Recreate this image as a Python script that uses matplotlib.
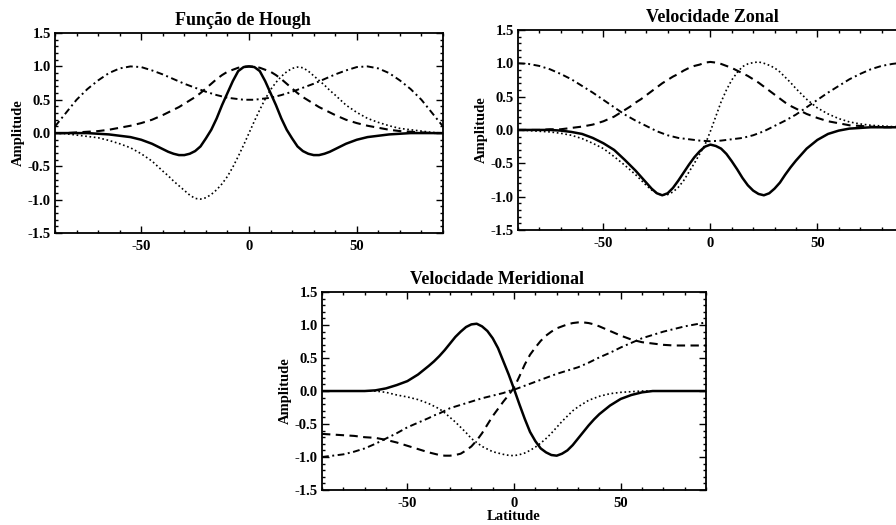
"""Hough function / zonal / meridional velocity profiles vs latitude (IDL-style panels)."""
import matplotlib
matplotlib.use("Agg")
import matplotlib.pyplot as plt
from matplotlib.ticker import MultipleLocator

plt.rcParams["font.family"] = ["Liberation Serif", "DejaVu Serif"]
plt.rcParams["font.weight"] = "bold"
plt.rcParams["axes.unicode_minus"] = False

# latitude grid: 5 deg outside +-40, 2.5 deg in the middle
LAT = ([-90, -85, -80, -75, -70, -65, -60, -55, -50, -45, -40]
       + [-37.5, -35, -32.5, -30, -27.5, -25, -22.5, -20, -17.5, -15, -12.5, -10, -7.5, -5, -2.5,
          0, 2.5, 5, 7.5, 10, 12.5, 15, 17.5, 20, 22.5, 25, 27.5, 30, 32.5, 35, 37.5]
       + [40, 45, 50, 55, 60, 65, 70, 75, 80, 85, 90])

# --- Função de Hough ---
hough_solid = ([0.0, 0.0, 0.0, 0.0, -0.01, -0.02, -0.04, -0.06, -0.1, -0.16, -0.24]
               + [-0.28, -0.31, -0.33, -0.33, -0.31, -0.27, -0.2, -0.08, 0.05, 0.22, 0.42, 0.6, 0.78,
                  0.93, 0.99, 1.0, 0.99, 0.93, 0.78, 0.6, 0.42, 0.22, 0.05, -0.08, -0.2, -0.27,
                  -0.31, -0.33, -0.33, -0.31, -0.28]
               + [-0.24, -0.16, -0.1, -0.06, -0.04, -0.02, -0.01, 0.0, 0.0, 0.0, 0.0])
hough_dotted = ([0.0, -0.01, -0.03, -0.05, -0.07, -0.11, -0.16, -0.22, -0.31, -0.42, -0.57]
                + [-0.64, -0.72, -0.79, -0.86, -0.93, -0.98, -0.99, -0.97, -0.92, -0.85, -0.76,
                   -0.65, -0.51, -0.35, -0.18, 0.0, 0.18, 0.35, 0.51, 0.65, 0.76, 0.85, 0.92, 0.97,
                   0.99, 0.98, 0.93, 0.86, 0.79, 0.72, 0.64]
                + [0.57, 0.42, 0.31, 0.22, 0.16, 0.11, 0.07, 0.05, 0.03, 0.01, 0.0])
hough_dashed = ([0.0, 0.0, 0.01, 0.02, 0.03, 0.05, 0.08, 0.11, 0.15, 0.2, 0.27]
                + [0.31, 0.35, 0.39, 0.44, 0.49, 0.54, 0.6, 0.67, 0.74, 0.81, 0.87, 0.92, 0.95,
                   0.98, 0.995, 1.0, 0.995, 0.98, 0.95, 0.92, 0.87, 0.81, 0.74, 0.67, 0.6, 0.54,
                   0.49, 0.44, 0.39, 0.35, 0.31]
                + [0.27, 0.2, 0.15, 0.11, 0.08, 0.05, 0.03, 0.02, 0.01, 0.0, 0.0])
hough_dashdot = ([0.1, 0.3, 0.5, 0.66, 0.79, 0.9, 0.97, 1.0, 0.99, 0.94, 0.88]
                 + [0.845, 0.81, 0.775, 0.74, 0.71, 0.68, 0.65, 0.62, 0.595, 0.57, 0.55, 0.53,
                    0.52, 0.51, 0.5, 0.5, 0.5, 0.51, 0.52, 0.53, 0.55, 0.57, 0.595, 0.62, 0.65,
                    0.68, 0.71, 0.74, 0.775, 0.81, 0.845]
                 + [0.88, 0.94, 0.99, 1.0, 0.97, 0.9, 0.79, 0.66, 0.5, 0.3, 0.1])

# --- Velocidade Zonal ---
zonal_solid = ([0.0, 0.0, 0.0, 0.0, -0.01, -0.03, -0.06, -0.12, -0.2, -0.3, -0.45]
               + [-0.53, -0.61, -0.7, -0.79, -0.88, -0.95, -0.98, -0.95, -0.87, -0.76, -0.64,
                  -0.52, -0.41, -0.32, -0.25, -0.22, -0.24, -0.28, -0.36, -0.47, -0.59, -0.72,
                  -0.83, -0.91, -0.96, -0.98, -0.95, -0.88, -0.79, -0.67, -0.56]
               + [-0.46, -0.28, -0.15, -0.06, -0.01, 0.02, 0.03, 0.04, 0.04, 0.04, 0.04])
zonal_dotted = ([0.0, -0.01, -0.02, -0.03, -0.05, -0.08, -0.13, -0.2, -0.28, -0.4, -0.53]
                + [-0.6, -0.67, -0.75, -0.83, -0.9, -0.95, -0.98, -0.97, -0.93, -0.86, -0.76,
                   -0.63, -0.5, -0.36, -0.22, -0.02, 0.2, 0.42, 0.6, 0.75, 0.86, 0.95, 0.99, 1.01,
                   1.02, 1.0, 0.97, 0.93, 0.87, 0.79, 0.71]
                + [0.62, 0.46, 0.33, 0.24, 0.17, 0.12, 0.09, 0.07, 0.06, 0.05, 0.05])
zonal_dashed = ([0.0, 0.0, 0.0, 0.01, 0.01, 0.03, 0.05, 0.08, 0.13, 0.2, 0.3]
                + [0.35, 0.41, 0.46, 0.52, 0.58, 0.64, 0.7, 0.75, 0.8, 0.84, 0.89, 0.93, 0.96,
                   0.98, 1.01, 1.02, 1.01, 0.99, 0.96, 0.93, 0.89, 0.85, 0.81, 0.76, 0.71, 0.65,
                   0.59, 0.53, 0.47, 0.41, 0.36]
                + [0.32, 0.24, 0.18, 0.13, 0.1, 0.07, 0.06, 0.05, 0.04, 0.04, 0.03])
zonal_dashdot = ([1.0, 0.99, 0.96, 0.91, 0.84, 0.76, 0.66, 0.56, 0.45, 0.34, 0.23]
                 + [0.185, 0.14, 0.1, 0.06, 0.02, -0.02, -0.05, -0.08, -0.1, -0.12, -0.13, -0.14,
                    -0.15, -0.16, -0.165, -0.17, -0.165, -0.16, -0.15, -0.14, -0.13, -0.12, -0.1,
                    -0.08, -0.05, -0.02, 0.02, 0.06, 0.1, 0.14, 0.185]
                 + [0.23, 0.34, 0.45, 0.56, 0.66, 0.76, 0.84, 0.91, 0.96, 0.99, 1.01])

# --- Velocidade Meridional ---
merid_solid = ([0.0, 0.0, 0.0, 0.0, 0.0, 0.01, 0.04, 0.09, 0.15, 0.25, 0.38]
               + [0.45, 0.53, 0.62, 0.72, 0.82, 0.9, 0.97, 1.01, 1.02, 0.98, 0.91, 0.8, 0.65,
                  0.45, 0.25, 0.03, -0.2, -0.42, -0.62, -0.76, -0.87, -0.93, -0.97, -0.98, -0.95,
                  -0.9, -0.82, -0.72, -0.62, -0.52, -0.43]
               + [-0.35, -0.22, -0.12, -0.06, -0.02, 0.0, 0.0, 0.0, 0.0, 0.0, 0.0])
merid_dotted = ([0.0, 0.0, 0.0, 0.0, 0.0, 0.0, -0.02, -0.06, -0.09, -0.13, -0.19]
                + [-0.23, -0.27, -0.33, -0.4, -0.47, -0.55, -0.63, -0.72, -0.78, -0.84, -0.88,
                   -0.92, -0.94, -0.96, -0.975, -0.98, -0.965, -0.94, -0.9, -0.85, -0.79, -0.72,
                   -0.64, -0.55, -0.46, -0.38, -0.3, -0.24, -0.19, -0.14, -0.11]
                + [-0.08, -0.04, -0.02, -0.01, 0.0, 0.0, 0.0, 0.0, 0.0, 0.0, 0.0])
merid_dashed = ([-0.65, -0.66, -0.67, -0.68, -0.7, -0.71, -0.74, -0.78, -0.83, -0.88, -0.93]
                + [-0.95, -0.97, -0.98, -0.98, -0.97, -0.95, -0.9, -0.84, -0.75, -0.64, -0.51,
                   -0.38, -0.27, -0.16, -0.06, 0.05, 0.22, 0.4, 0.55, 0.66, 0.76, 0.84, 0.9, 0.95,
                   0.98, 1.01, 1.03, 1.04, 1.04, 1.03, 1.01]
                + [0.98, 0.91, 0.84, 0.78, 0.74, 0.72, 0.7, 0.69, 0.69, 0.69, 0.69])
merid_dashdot = ([-1.0, -0.98, -0.96, -0.92, -0.87, -0.8, -0.72, -0.64, -0.55, -0.48, -0.41]
                 + [-0.37, -0.34, -0.3, -0.26, -0.235, -0.21, -0.185, -0.16, -0.135, -0.11,
                    -0.09, -0.07, -0.05, -0.03, 0.0, 0.02, 0.05, 0.08, 0.11, 0.14, 0.17, 0.2,
                    0.23, 0.26, 0.285, 0.31, 0.335, 0.36, 0.395, 0.43, 0.47]
                 + [0.51, 0.58, 0.66, 0.73, 0.8, 0.85, 0.9, 0.94, 0.98, 1.01, 1.04])

STYLES = {
    "solid": dict(linestyle="-", lw=1.8),
    "dotted": dict(dashes=(1, 1.6), lw=1.2),
    "dashed": dict(dashes=(4, 2.6), lw=1.5),
    "dashdot": dict(dashes=(3.5, 1.8, 1, 1.8), lw=1.4),
}


def draw_panel(ax, title, title_x, series, xlabel=None):
    for key, ys in series.items():
        ax.plot(LAT, ys, color="black", **STYLES[key])
    ax.set_xlim(-90, 90)
    ax.set_ylim(-1.5, 1.5)
    ax.xaxis.set_major_locator(MultipleLocator(50))
    ax.xaxis.set_minor_locator(MultipleLocator(10))
    ax.yaxis.set_major_locator(MultipleLocator(0.5))
    ax.yaxis.set_minor_locator(MultipleLocator(0.1))
    ax.yaxis.set_major_formatter(plt.FuncFormatter(lambda v, p: f"{v:.1f}"))
    ax.tick_params(which="both", direction="in", top=True, right=True, labelsize=10.5, width=1.0)
    ax.tick_params(which="major", length=5)
    ax.tick_params(which="minor", length=2.5)
    ax.tick_params(axis="x", pad=5)
    ax.tick_params(axis="y", pad=3)
    for s in ax.spines.values():
        s.set_linewidth(1.3)
    ax.set_ylabel("Amplitude", fontsize=10.5, fontweight="bold", labelpad=2)
    ax.set_title(title, fontsize=13, fontweight="bold", x=title_x, pad=6)
    if xlabel:
        ax.set_xlabel(xlabel, fontsize=10.5, fontweight="bold", labelpad=0)


fig = plt.figure(figsize=(8.96, 5.25), dpi=100)

ax1 = fig.add_axes([0.0614, 0.556, 0.433, 0.381])
draw_panel(ax1, "Função de Hough", 0.485,
           {"dashdot": hough_dashdot, "dashed": hough_dashed,
            "dotted": hough_dotted, "solid": hough_solid})

ax2 = fig.add_axes([0.578, 0.562, 0.4297, 0.381])
draw_panel(ax2, "Velocidade Zonal", 0.506,
           {"dashdot": zonal_dashdot, "dashed": zonal_dashed,
            "dotted": zonal_dotted, "solid": zonal_solid})

ax3 = fig.add_axes([0.3594, 0.0667, 0.4286, 0.377])
draw_panel(ax3, "Velocidade Meridional", 0.456,
           {"dashdot": merid_dashdot, "dashed": merid_dashed,
            "dotted": merid_dotted, "solid": merid_solid},
           xlabel="Latitude")

fig.savefig("out.png", dpi=100)
